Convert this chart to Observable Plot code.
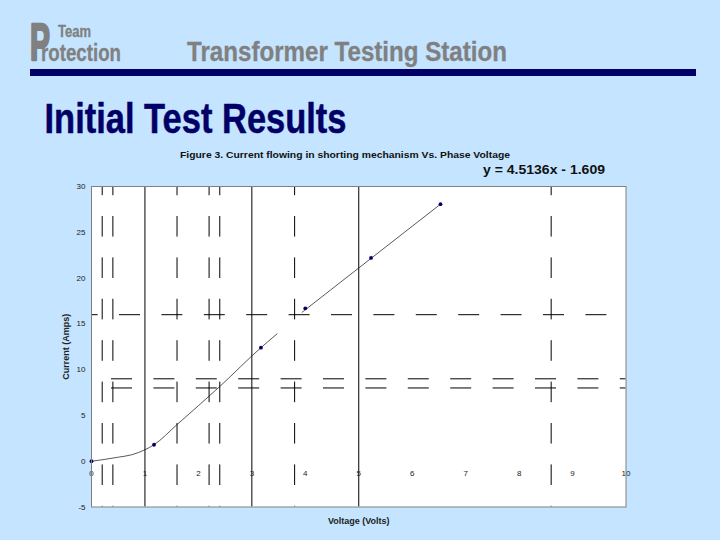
<!DOCTYPE html>
<html><head><meta charset="utf-8">
<script src="https://cdn.jsdelivr.net/npm/d3@7"></script>
<script src="https://cdn.jsdelivr.net/npm/@observablehq/plot@0.6"></script>
<style>
html,body{margin:0;padding:0;background:#c4e4ff;width:720px;height:540px;overflow:hidden}
#wrap{position:relative;width:720px;height:540px}
#wrap>svg,#wrap>figure>svg{position:absolute;left:0;top:0}
#wrap figure{margin:0}
#head{font-family:"Liberation Sans",Arial,sans-serif;font-weight:700}
#head text{paint-order:stroke fill;stroke-linejoin:round}
</style></head><body>
<div id="wrap"></div>
<script>
const xTicks=[0,1,2,3,4,5,6,7,8,9,10];
const yTicks=[-5,0,5,10,15,20,25,30];
const solidVolts=[1,3,5];
const dashedVolts=[0.2,0.4,1.6,2.2,2.4,3.8,8.6];
const pointVolts=[0,1.17,3.17,4.0,5.23,6.53];
const pointAmps=[0,1.8,12.4,16.7,22.2,28.07];
const fitVolts=[0,0.25,0.5,0.75,1,1.17,1.6,2.4,3.17,3.47,3.94,5,5.23,6.53];
const fitAmps=[0,0.2,0.44,0.7,1.25,1.8,4,8.16,12.4,13.9,16.27,21.1,22.15,28.07];
const fitPart=[0,0,0,0,0,0,0,0,0,0,1,1,1,1];

const fit=fitVolts.map((v,i)=>({v,a:fitAmps[i],p:fitPart[i]}));
const pts=pointVolts.map((v,i)=>({v,a:pointAmps[i]}));
const dash="20.6,20.8", hdash="21,21.4";
const labelFont=9;

const chart=Plot.plot({
  width:720,height:540,
  marginLeft:91,marginRight:94.5,marginTop:186,marginBottom:33.5,
  style:{background:"transparent",fontFamily:'"Liberation Sans",Arial,sans-serif',fontSize:"8px",color:"#222"},
  x:{domain:[0,10],axis:null},
  y:{domain:[-5,30],axis:null},
  marks:[
    Plot.frame({fill:"white",stroke:"none"}),
    Plot.ruleX(solidVolts,{stroke:"#000",strokeWidth:1}),
    Plot.ruleX(dashedVolts,{stroke:"#000",strokeWidth:1,strokeDasharray:dash,strokeDashoffset:11.4}),
    Plot.ruleY([16],{stroke:"#000",strokeWidth:1,strokeDasharray:hdash,strokeDashoffset:14.4}),
    Plot.ruleY([9,8],{stroke:"#000",strokeWidth:1,strokeDasharray:hdash,strokeDashoffset:22.4}),
    Plot.line(fit,{x:"v",y:"a",z:"p",curve:"monotone-x",stroke:"#111",strokeWidth:0.7}),
    Plot.dot(pts,{x:"v",y:"a",r:1.9,fill:"#000066",stroke:"none"}),
    Plot.text(xTicks,{x:d=>d,y:()=>0,dy:12,text:d=>String(d),fontSize:8,fill:"#222"}),
    Plot.frame({stroke:"#808080",strokeWidth:1}),
    Plot.axisY(yTicks,{tickSize:0,tickPadding:6,tickFormat:d=>String(d),label:null,fontSize:8}),
    Plot.text(["Current (Amps)"],{frameAnchor:"left",textAnchor:"middle",rotate:-90,dx:-25,fontSize:labelFont,fontWeight:700,fill:"#222"}),
    Plot.text(["Voltage (Volts)"],{frameAnchor:"bottom",dy:17,fontSize:labelFont,fontWeight:700,fill:"#222"}),
  ]
});
document.getElementById("wrap").appendChild(chart);

const NS="http://www.w3.org/2000/svg";
const head=document.createElementNS(NS,"svg");
head.setAttribute("id","head");head.setAttribute("width",720);head.setAttribute("height",540);
head.style.pointerEvents="none";
const headTexts=[
 {t:"P",x:30,y:60,s:52,w:20,f:"#808080",k:2.5},
 {t:"Team",x:58,y:37,s:16,w:33,f:"#808080",k:0.3},
 {t:"rotection",x:41,y:61,s:24,w:80,f:"#808080",k:0.3},
 {t:"Transformer Testing Station",x:187,y:60.5,s:28.5,w:320,f:"#808080",k:0.3},
 {t:"Initial Test Results",x:44.5,y:133,s:43,w:302,f:"#000066",k:0.5},
 {t:"Figure 3. Current flowing in shorting mechanism Vs. Phase Voltage",x:180,y:158,s:9.5,w:330,f:"#111",k:0},
 {t:"y = 4.5136x - 1.609",x:483,y:174,s:12.5,w:122,f:"#111",k:0}
];
for(const d of headTexts){
  const e=document.createElementNS(NS,"text");
  e.setAttribute("x",d.x);e.setAttribute("y",d.y);e.setAttribute("font-size",d.s);e.setAttribute("fill",d.f);
  if(d.k){e.setAttribute("stroke",d.f);e.setAttribute("stroke-width",d.k);}
  e.setAttribute("textLength",d.w);e.setAttribute("lengthAdjust","spacingAndGlyphs");
  e.textContent=d.t;head.appendChild(e);
}
const bar=document.createElementNS(NS,"rect");
bar.setAttribute("x",30);bar.setAttribute("y",69);bar.setAttribute("width",666);bar.setAttribute("height",7);bar.setAttribute("fill","#000066");
head.appendChild(bar);
document.getElementById("wrap").appendChild(head);
</script>
</body></html>
